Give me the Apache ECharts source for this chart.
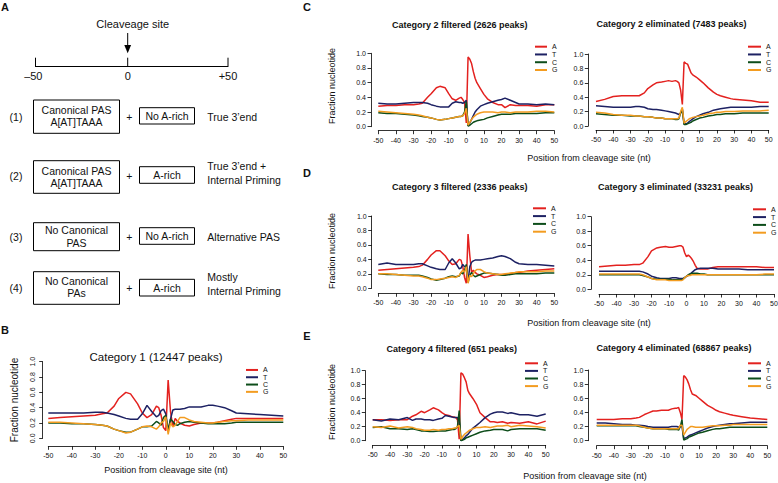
<!DOCTYPE html>
<html><head><meta charset="utf-8">
<script src="https://cdn.jsdelivr.net/npm/echarts@6/dist/echarts.min.js"></script>
<style>html,body{margin:0;padding:0;background:#fff}#c{width:778px;height:483px}</style>
</head><body><div id="c"></div>
<script>
// Positions relative to the cleavage site (nt)
const positions = [-50,-45,-40,-35,-30,-27,-25,-22,-20,-17, -15,-12,-10,-8,-6,-4,-3,-2,-1,0, 1,2,3,4,5,6,8,10,12,15, 18,20,22,25,28,30,35,40,45,50];
const nucleotides = ['A','T','C','G'];
const xTickValues = [-50,-40,-30,-20,-10,0,10,20,30,40,50];
const yTickValues = [0.0,0.2,0.4,0.6,0.8,1.0];

// Category 1 (12447 peaks)
const cat1_A = [0.26,0.27,0.28,0.29,0.30,0.32,0.33,0.42,0.52,0.60, 0.58,0.45,0.33,0.27,0.31,0.42,0.40,0.30,0.14,0.10, 0.76,0.35,0.15,0.26,0.22,0.20,0.17,0.16,0.18,0.20, 0.20,0.20,0.21,0.23,0.25,0.26,0.26,0.26,0.26,0.26];
const cat1_T = [0.33,0.33,0.33,0.33,0.34,0.34,0.33,0.31,0.29,0.26, 0.25,0.25,0.32,0.43,0.35,0.28,0.30,0.36,0.38,0.32, 0.10,0.25,0.37,0.38,0.38,0.38,0.39,0.41,0.41,0.41, 0.43,0.43,0.42,0.40,0.36,0.33,0.32,0.31,0.30,0.29];
const cat1_C = [0.20,0.20,0.19,0.19,0.18,0.17,0.16,0.12,0.10,0.08, 0.08,0.12,0.15,0.15,0.16,0.22,0.20,0.17,0.27,0.30, 0.09,0.25,0.22,0.18,0.17,0.19,0.21,0.22,0.21,0.20, 0.19,0.19,0.19,0.19,0.20,0.21,0.21,0.21,0.21,0.21];
const cat1_G = [0.21,0.21,0.20,0.19,0.18,0.17,0.16,0.12,0.10,0.07, 0.08,0.12,0.15,0.16,0.15,0.12,0.15,0.20,0.22,0.28, 0.05,0.20,0.15,0.17,0.22,0.27,0.27,0.24,0.22,0.21, 0.20,0.20,0.21,0.22,0.23,0.23,0.24,0.24,0.24,0.24];

// Category 2 filtered (2626 peaks)
const cat2f_A = [0.28,0.29,0.29,0.30,0.30,0.31,0.32,0.40,0.45,0.53, 0.55,0.53,0.45,0.38,0.36,0.39,0.40,0.37,0.33,0.05, 0.95,0.92,0.86,0.75,0.66,0.60,0.52,0.44,0.38,0.33, 0.30,0.30,0.26,0.30,0.29,0.29,0.29,0.28,0.30,0.30];
const cat2f_T = [0.32,0.31,0.31,0.32,0.33,0.33,0.33,0.32,0.30,0.28, 0.27,0.27,0.27,0.32,0.34,0.33,0.33,0.32,0.33,0.36, 0.01,0.05,0.10,0.15,0.20,0.23,0.28,0.30,0.32,0.34, 0.36,0.37,0.39,0.36,0.33,0.31,0.31,0.30,0.31,0.30];
const cat2f_C = [0.19,0.18,0.18,0.17,0.16,0.15,0.14,0.13,0.12,0.10, 0.09,0.10,0.11,0.12,0.13,0.14,0.14,0.15,0.20,0.34, 0.01,0.02,0.04,0.06,0.07,0.08,0.09,0.10,0.12,0.14, 0.16,0.17,0.17,0.17,0.18,0.18,0.18,0.18,0.19,0.19];
const cat2f_G = [0.21,0.20,0.19,0.18,0.17,0.16,0.15,0.13,0.12,0.10, 0.09,0.10,0.11,0.12,0.13,0.14,0.14,0.15,0.18,0.25, 0.02,0.06,0.10,0.13,0.15,0.17,0.19,0.20,0.20,0.20, 0.19,0.20,0.20,0.19,0.20,0.20,0.20,0.21,0.21,0.20];

// Category 2 eliminated (7483 peaks)
const cat2e_A = [0.34,0.37,0.41,0.42,0.42,0.42,0.42,0.46,0.52,0.57, 0.60,0.61,0.62,0.63,0.62,0.63,0.62,0.60,0.50,0.30, 0.89,0.87,0.86,0.80,0.74,0.71,0.68,0.64,0.60,0.53, 0.47,0.44,0.42,0.40,0.38,0.37,0.36,0.35,0.33,0.33];
const cat2e_T = [0.28,0.27,0.26,0.26,0.26,0.27,0.27,0.26,0.24,0.23, 0.23,0.22,0.21,0.20,0.19,0.18,0.17,0.16,0.18,0.24, 0.03,0.03,0.04,0.06,0.08,0.10,0.13,0.15,0.17,0.19, 0.22,0.23,0.24,0.25,0.26,0.26,0.26,0.26,0.27,0.27];
const cat2e_C = [0.17,0.16,0.15,0.15,0.14,0.14,0.14,0.13,0.13,0.12, 0.11,0.11,0.10,0.10,0.10,0.09,0.09,0.10,0.18,0.22, 0.02,0.02,0.03,0.04,0.05,0.07,0.09,0.11,0.12,0.14, 0.15,0.16,0.16,0.17,0.17,0.17,0.18,0.18,0.18,0.18];
const cat2e_G = [0.19,0.18,0.16,0.15,0.15,0.14,0.14,0.13,0.13,0.12, 0.11,0.11,0.10,0.10,0.10,0.10,0.10,0.11,0.20,0.26, 0.04,0.06,0.08,0.10,0.11,0.12,0.13,0.14,0.15,0.17, 0.18,0.19,0.19,0.20,0.20,0.20,0.21,0.21,0.21,0.22];

// Category 3 filtered (2336 peaks)
const cat3f_A = [0.25,0.26,0.27,0.28,0.29,0.30,0.32,0.40,0.46,0.52, 0.52,0.45,0.38,0.33,0.34,0.40,0.39,0.30,0.15,0.07, 0.75,0.45,0.22,0.25,0.22,0.20,0.18,0.15,0.16,0.18, 0.19,0.19,0.19,0.20,0.22,0.22,0.24,0.25,0.26,0.27];
const cat3f_T = [0.33,0.35,0.33,0.33,0.33,0.34,0.34,0.31,0.29,0.27, 0.26,0.26,0.35,0.41,0.35,0.27,0.28,0.33,0.30,0.30, 0.10,0.30,0.36,0.38,0.39,0.39,0.39,0.40,0.41,0.42, 0.44,0.45,0.44,0.41,0.36,0.34,0.33,0.33,0.32,0.31];
const cat3f_C = [0.20,0.19,0.19,0.18,0.18,0.18,0.17,0.15,0.13,0.11, 0.12,0.14,0.16,0.17,0.16,0.17,0.22,0.20,0.25,0.33, 0.08,0.18,0.22,0.18,0.16,0.17,0.19,0.21,0.21,0.20, 0.19,0.18,0.18,0.19,0.20,0.20,0.20,0.20,0.21,0.21];
const cat3f_G = [0.20,0.20,0.19,0.18,0.17,0.17,0.16,0.14,0.12,0.12, 0.13,0.14,0.15,0.16,0.15,0.18,0.22,0.25,0.22,0.30, 0.07,0.18,0.16,0.20,0.24,0.26,0.26,0.23,0.21,0.20, 0.19,0.19,0.20,0.21,0.22,0.23,0.23,0.23,0.24,0.24];

// Category 3 eliminated (33231 peaks)
const cat3e_A = [0.31,0.32,0.33,0.33,0.34,0.34,0.36,0.45,0.53,0.57, 0.58,0.59,0.58,0.58,0.59,0.60,0.60,0.58,0.50,0.45, 0.47,0.45,0.42,0.38,0.33,0.29,0.28,0.28,0.28,0.30, 0.31,0.31,0.31,0.31,0.31,0.31,0.31,0.31,0.30,0.30];
const cat3e_T = [0.25,0.25,0.25,0.25,0.25,0.25,0.24,0.21,0.18,0.16, 0.15,0.15,0.15,0.16,0.16,0.15,0.15,0.15,0.16,0.18, 0.19,0.21,0.23,0.25,0.27,0.28,0.29,0.29,0.29,0.29, 0.28,0.28,0.28,0.28,0.28,0.28,0.27,0.27,0.27,0.27];
const cat3e_C = [0.20,0.20,0.20,0.20,0.20,0.20,0.19,0.17,0.15,0.14, 0.14,0.14,0.14,0.13,0.13,0.13,0.13,0.14,0.16,0.18, 0.20,0.21,0.22,0.22,0.22,0.22,0.21,0.21,0.20,0.20, 0.20,0.20,0.20,0.20,0.20,0.20,0.20,0.20,0.20,0.20];
const cat3e_G = [0.21,0.21,0.21,0.21,0.21,0.21,0.20,0.17,0.15,0.13, 0.13,0.13,0.12,0.12,0.12,0.12,0.12,0.13,0.16,0.18, 0.19,0.19,0.20,0.20,0.20,0.20,0.20,0.20,0.20,0.20, 0.20,0.20,0.20,0.20,0.20,0.20,0.20,0.20,0.21,0.21];

// Category 4 filtered (651 peaks)
const cat4f_A = [0.30,0.30,0.29,0.30,0.30,0.35,0.37,0.42,0.40,0.44, 0.47,0.44,0.40,0.37,0.36,0.34,0.34,0.33,0.30,0.02, 0.97,0.95,0.90,0.84,0.72,0.67,0.60,0.52,0.40,0.33, 0.27,0.27,0.26,0.27,0.25,0.26,0.25,0.27,0.24,0.28];
const cat4f_T = [0.30,0.28,0.31,0.30,0.33,0.29,0.31,0.31,0.30,0.30, 0.29,0.31,0.32,0.36,0.35,0.34,0.33,0.33,0.33,0.28, 0.00,0.02,0.04,0.07,0.09,0.12,0.18,0.22,0.26,0.33, 0.38,0.40,0.41,0.41,0.39,0.40,0.37,0.37,0.35,0.38];
const cat4f_C = [0.19,0.20,0.17,0.17,0.16,0.17,0.16,0.14,0.14,0.13, 0.13,0.14,0.14,0.14,0.15,0.16,0.16,0.17,0.20,0.43, 0.00,0.01,0.02,0.04,0.05,0.06,0.08,0.10,0.12,0.14, 0.15,0.16,0.16,0.16,0.14,0.16,0.17,0.17,0.17,0.15];
const cat4f_G = [0.20,0.19,0.21,0.18,0.20,0.19,0.17,0.16,0.15,0.15, 0.16,0.15,0.16,0.16,0.17,0.17,0.18,0.18,0.20,0.22, 0.02,0.06,0.09,0.11,0.13,0.15,0.17,0.19,0.19,0.20, 0.19,0.20,0.21,0.21,0.22,0.20,0.22,0.21,0.20,0.18];

// Category 4 eliminated (68867 peaks)
const cat4e_A = [0.30,0.30,0.30,0.31,0.31,0.32,0.33,0.37,0.39,0.42, 0.42,0.43,0.43,0.43,0.45,0.46,0.46,0.47,0.40,0.30, 0.92,0.90,0.86,0.80,0.72,0.66,0.64,0.60,0.56,0.50, 0.46,0.43,0.41,0.39,0.37,0.36,0.34,0.32,0.31,0.30];
const cat4e_T = [0.25,0.25,0.24,0.23,0.23,0.22,0.22,0.21,0.20,0.19, 0.19,0.19,0.19,0.19,0.20,0.20,0.20,0.19,0.20,0.20, 0.03,0.04,0.05,0.07,0.08,0.09,0.11,0.13,0.15,0.18, 0.20,0.21,0.22,0.23,0.24,0.24,0.25,0.26,0.26,0.26];
const cat4e_C = [0.21,0.21,0.21,0.21,0.21,0.21,0.20,0.19,0.18,0.17, 0.17,0.17,0.17,0.16,0.16,0.16,0.16,0.15,0.20,0.30, 0.01,0.02,0.03,0.05,0.06,0.07,0.09,0.11,0.12,0.14, 0.16,0.17,0.17,0.18,0.19,0.19,0.19,0.19,0.19,0.19];
const cat4e_G = [0.22,0.22,0.22,0.22,0.22,0.22,0.21,0.19,0.18,0.17, 0.17,0.17,0.17,0.17,0.17,0.17,0.17,0.17,0.22,0.22, 0.08,0.12,0.16,0.18,0.20,0.20,0.19,0.19,0.19,0.20, 0.21,0.21,0.21,0.22,0.22,0.23,0.23,0.23,0.23,0.23];

const panelTitles = ['Category 1 (12447 peaks)','Category 2 filtered (2626 peaks)','Category 2 eliminated (7483 peaks)','Category 3 filtered (2336 peaks)','Category 3 eliminated (33231 peaks)','Category 4 filtered (651 peaks)','Category 4 eliminated (68867 peaks)'];
const panelData = [
  [cat1_A,cat1_T,cat1_C,cat1_G],
  [cat2f_A,cat2f_T,cat2f_C,cat2f_G],
  [cat2e_A,cat2e_T,cat2e_C,cat2e_G],
  [cat3f_A,cat3f_T,cat3f_C,cat3f_G],
  [cat3e_A,cat3e_T,cat3e_C,cat3e_G],
  [cat4f_A,cat4f_T,cat4f_C,cat4f_G],
  [cat4e_A,cat4e_T,cat4e_C,cat4e_G]
];

// ---- layout / style ----
const COLORS = {A:'#e3211f', T:'#1d2163', C:'#0d4d1a', G:'#f39c20'};
const FONT = '"Liberation Sans", Arial, Helvetica, sans-serif';
const layout = [
  {left:48.3, top:361.7, width:235, height:76.6, yOff:5.6, xOff:8, rotY:true, tx:156, ty:357, tsize:11.5, tweight:'normal', lg:[246,366.3,12,7.3]},
  {left:378.3, top:53.3, width:176, height:73.4, yOff:7.3, xOff:4, tx:459.7, ty:25, tsize:9, tweight:'bold', lg:[535,42.8,12,7.77]},
  {left:596, top:54, width:172.7, height:72, yOff:7.7, xOff:4, tx:671.5, ty:24, tsize:9, tweight:'bold', lg:[748,42.8,13,7.77]},
  {left:378.3, top:216, width:176, height:72.3, yOff:6.6, xOff:5, tx:459.7, ty:187.3, tsize:9, tweight:'bold', lg:[533,204.4,13,7.8]},
  {left:599, top:216.7, width:175, height:72.6, yOff:8, xOff:4.7, tx:675.5, ty:187.3, tsize:9, tweight:'bold', lg:[753,205.4,13,7.8]},
  {left:372.7, top:370.7, width:173, height:70, yOff:7.4, xOff:4.3, tx:451.7, ty:349, tsize:9, tweight:'bold', lg:[525,359.5,13,7.6]},
  {left:596.7, top:370, width:170.6, height:70.7, yOff:8.4, xOff:5, tx:674, ty:348.3, tsize:9, tweight:'bold', lg:[748,359.5,13,7.6]}
];

const grid=[], xAxis=[], yAxis=[], series=[], legend=[], graphic=[];
const axisLineStyle = {color:'#000', width:0.8};
layout.forEach((L,i)=>{
  grid.push({left:L.left, top:L.top, width:L.width, height:L.height, containLabel:false, outerBoundsMode:'none'});
  xAxis.push({gridIndex:i, type:'value', min:-50, max:50, interval:10, offset:L.xOff,
    axisLine:{show:true, onZero:false, lineStyle:axisLineStyle},
    axisTick:{show:true, length:3.5, lineStyle:axisLineStyle},
    axisLabel:{fontSize:7, color:'#111', margin:6, fontFamily:FONT, showMinLabel:true, showMaxLabel:true, formatter:v=>String(v)},
    splitLine:{show:false}});
  yAxis.push({gridIndex:i, type:'value', min:0, max:1, interval:0.2, offset:L.yOff,
    axisLine:{show:true, onZero:false, lineStyle:axisLineStyle},
    axisTick:{show:true, length:3.5, lineStyle:axisLineStyle},
    axisLabel:{fontSize:7, color:'#111', margin:L.rotY?7:5, rotate:L.rotY?90:0, fontFamily:FONT, showMinLabel:true, showMaxLabel:true, formatter:v=>v.toFixed(1)},
    splitLine:{show:false}});
  nucleotides.forEach((n,k)=>{
    const vals = panelData[i][k];
    series.push({type:'line', name:n, xAxisIndex:i, yAxisIndex:i, color:COLORS[n],
      data: positions.map((x,j)=>[x, vals[j]]),
      showSymbol:false, symbol:'none', silent:true, animation:false,
      lineStyle:{width:1.5, color:COLORS[n]}, itemStyle:{color:COLORS[n]}});
  });
  legend.push({left:L.lg[0], top:L.lg[1], orient:'vertical', padding:0, itemGap:0,
    itemWidth:L.lg[2], itemHeight:2, icon:'rect', selectedMode:false, data:nucleotides,
    textStyle:{fontSize:7, lineHeight:L.lg[3], color:'#111', fontFamily:FONT, padding:0}});
  graphic.push({type:'text', x:L.tx, y:L.ty, style:{text:panelTitles[i], fontSize:L.tsize, fontWeight:L.tweight, fontFamily:FONT, fill:'#111', align:'center', verticalAlign:'middle'}});
});

function txt(t,x,y,size,opts){ opts=opts||{}; return {type:'text', x:x, y:y, rotation:opts.rot||0,
  style:{text:t, fontSize:size, fontWeight:opts.weight||'normal', fontFamily:FONT, fill:'#111', align:opts.align||'center', verticalAlign:'middle'}}; }
function ln(x1,y1,x2,y2){ return {type:'line', shape:{x1,y1,x2,y2}, style:{stroke:'#000', lineWidth:1}}; }
function box(x,y,w,h){ return {type:'rect', shape:{x,y,width:w,height:h}, style:{fill:'none', stroke:'#000', lineWidth:1}}; }

// panel letters
graphic.push(txt('A',5,7,11,{weight:'bold'}), txt('B',5,330,11,{weight:'bold'}), txt('C',307,7,11,{weight:'bold'}), txt('D',307,173,11,{weight:'bold'}), txt('E',307,336,11,{weight:'bold'}));
// axis names
graphic.push(txt('Fraction nucleotide',14,400,10,{rot:Math.PI/2}));
graphic.push(txt('Fraction nucleotide',331.7,86,9,{rot:Math.PI/2}));
graphic.push(txt('Fraction nucleotide',331.7,251,9,{rot:Math.PI/2}));
graphic.push(txt('Fraction nucleotide',331.7,402,9,{rot:Math.PI/2}));
graphic.push(txt('Position from cleavage site (nt)',166,470,9));
graphic.push(txt('Position from cleavage site (nt)',589,158,9));
graphic.push(txt('Position from cleavage site (nt)',589,323,9));
graphic.push(txt('Position from cleavage site (nt)',585,476,9));

// panel A diagram
graphic.push(txt('Cleaveage site',132.7,24,11));
graphic.push(ln(127.7,33,127.7,47));
graphic.push({type:'polygon', shape:{points:[[124.3,45],[131.1,45],[127.7,53.3]]}, style:{fill:'#000'}});
graphic.push(ln(35,66.5,228.3,66.5), ln(35.5,57.7,35.5,66.5), ln(127.7,57.7,127.7,66.5), ln(228,57.7,228,66.5));
graphic.push(txt('\u201350',33.3,76,11), txt('0',127.7,76,11), txt('+50',228,76,11));
const rows = [
  {n:'(1)', y:116.5, b1:[100,133.3], l1:['Canonical PAS','A[AT]TAAA'], t1:[110,121.5], b2:[107.7,124], t2:'No A-rich', right:[['True 3\u2019end',116.5]]},
  {n:'(2)', y:175.5, b1:[160.7,193.3], l1:['Canonical PAS','A[AT]TAAA'], t1:[171,183], b2:[166.7,183.3], t2:'A-rich', right:[['True 3\u2019end +',165.7],['Internal Priming',180]]},
  {n:'(3)', y:236.7, b1:[222.7,250.7], l1:['No Canonical','PAS'], t1:[230,242.7], b2:[227.7,244.3], t2:'No A-rich', right:[['Alternative PAS',236.7]]},
  {n:'(4)', y:287.5, b1:[271.7,304.3], l1:['No Canonical','PAs'], t1:[280.7,293.3], b2:[279.3,296], t2:'A-rich', right:[['Mostly',277.3],['Internal Priming',290.7]]}
];
rows.forEach(r=>{
  graphic.push(txt(r.n,16,r.y,10.5));
  graphic.push(box(33.5,r.b1[0],86,r.b1[1]-r.b1[0]));
  graphic.push(txt(r.l1[0],76.5,r.t1[0],10.5), txt(r.l1[1],76.5,r.t1[1],10.5));
  graphic.push(txt('+',129.3,r.y,10.5));
  graphic.push(box(139.5,r.b2[0],55,r.b2[1]-r.b2[0]));
  graphic.push(txt(r.t2,167,(r.b2[0]+r.b2[1])/2,10.5));
  r.right.forEach(rt=>graphic.push(txt(rt[0],207.3,rt[1],10.5,{align:'left'})));
});

const chart = echarts.init(document.getElementById('c'), null, {renderer:'svg'});
chart.setOption({animation:false, backgroundColor:'#fff', grid, xAxis, yAxis, series, legend, graphic});
</script></body></html>
